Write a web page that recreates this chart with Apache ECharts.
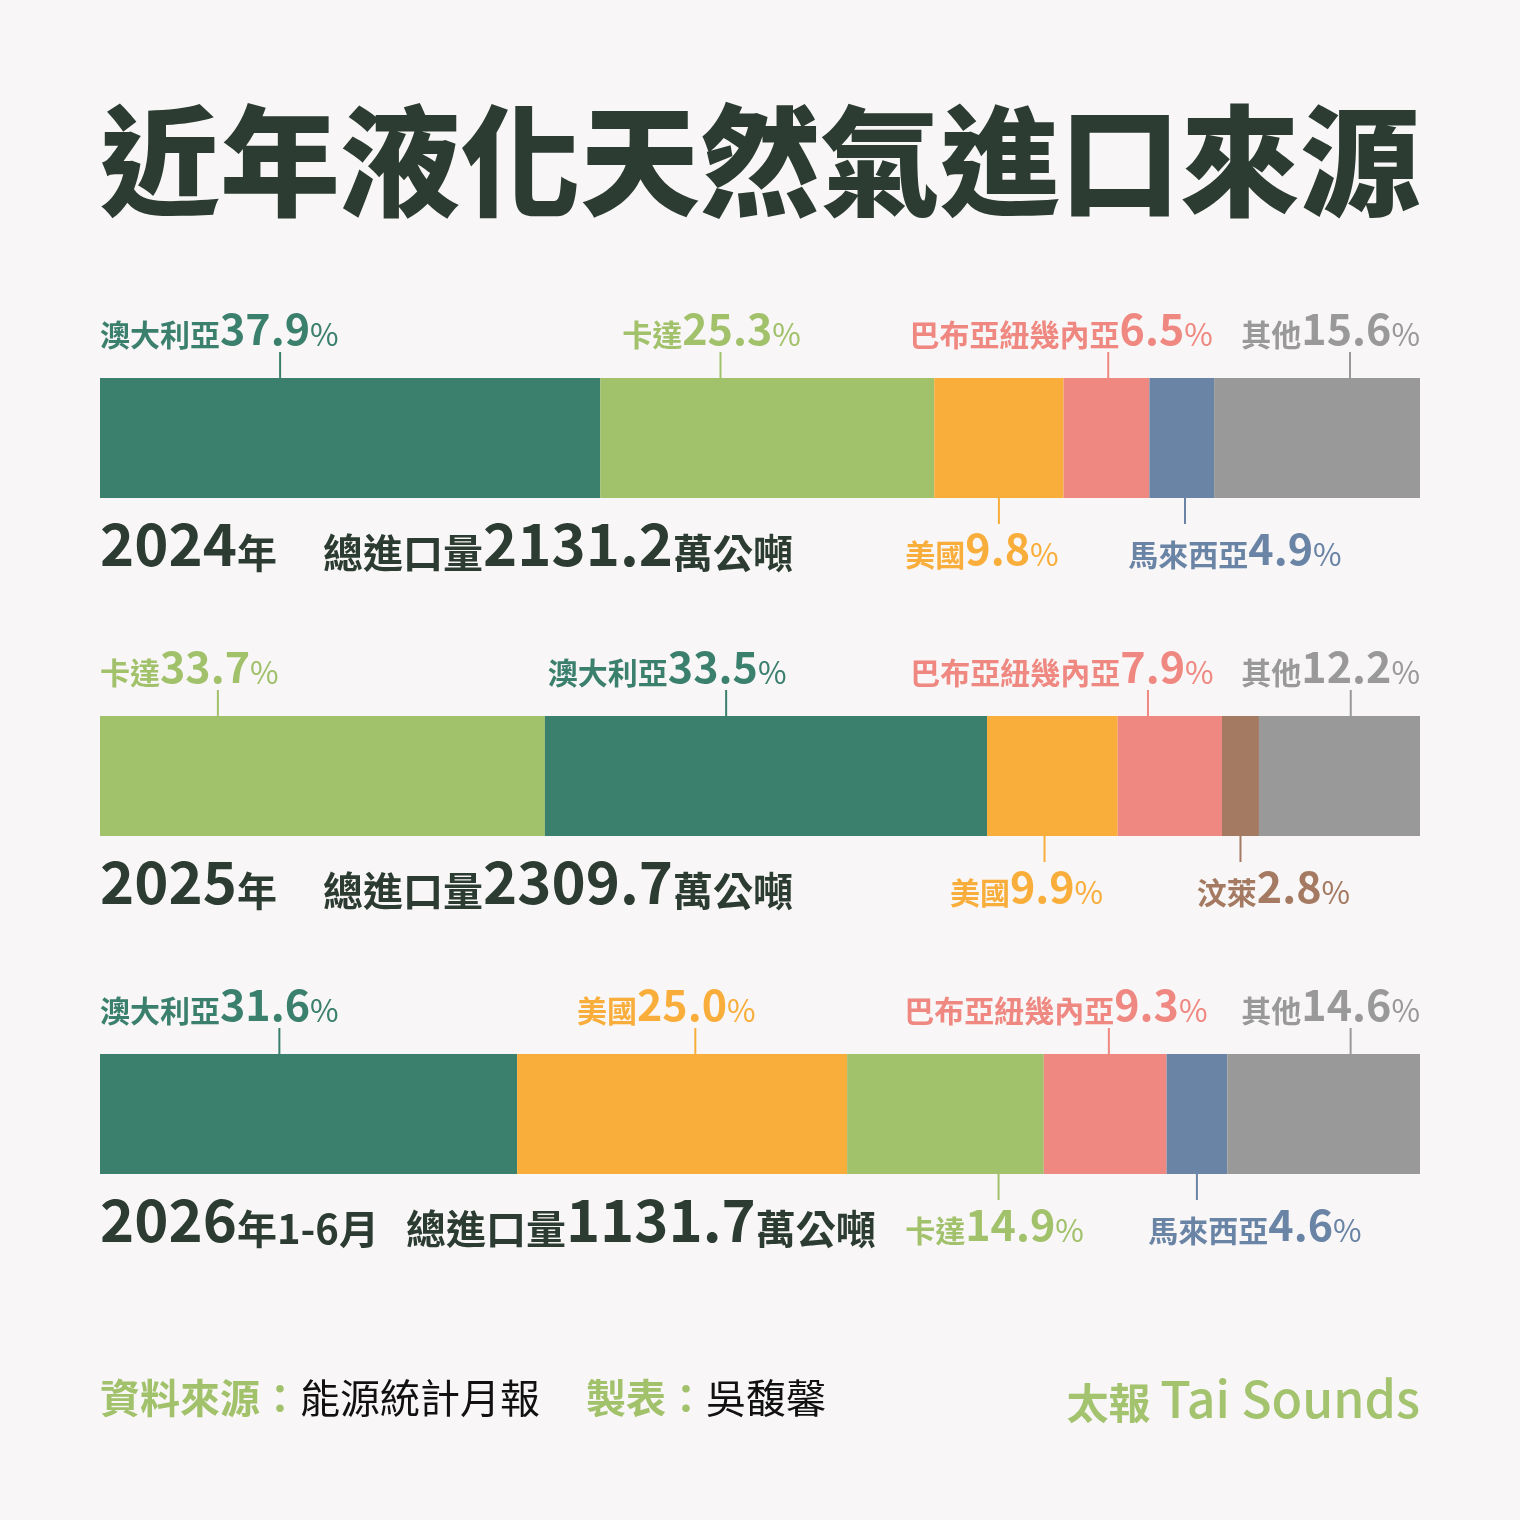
<!DOCTYPE html>
<html>
<head>
<meta charset="utf-8">
<script src="https://cdn.jsdelivr.net/npm/echarts@6/dist/echarts.min.js"></script>
<style>
  html, body { margin: 0; padding: 0; background: #f8f6f6; }
  #main { width: 1520px; height: 1520px; }
</style>
</head>
<body>
<div id="main"></div>
<script>
// 資料
const years = ['2024', '2025', '2026'];
const yearSuffix = ['年', '年', '年1-6月'];
const totals = ['2131.2', '2309.7', '1131.7'];

const names2024 = ['澳大利亞', '卡達', '美國', '巴布亞紐幾內亞', '馬來西亞', '其他'];
const shares2024 = [37.9, 25.3, 9.8, 6.5, 4.9, 15.6];
const names2025 = ['卡達', '澳大利亞', '美國', '巴布亞紐幾內亞', '汶萊', '其他'];
const shares2025 = [33.7, 33.5, 9.9, 7.9, 2.8, 12.2];
const names2026 = ['澳大利亞', '美國', '卡達', '巴布亞紐幾內亞', '馬來西亞', '其他'];
const shares2026 = [31.6, 25.0, 14.9, 9.3, 4.6, 14.6];

const rowNames = [names2024, names2025, names2026];
const rowShares = [shares2024, shares2025, shares2026];

// 樣式
const countryColor = {
  '澳大利亞': '#3b7f6d',
  '卡達': '#a1c16b',
  '美國': '#f9ae3c',
  '巴布亞紐幾內亞': '#f08882',
  '馬來西亞': '#6a84a6',
  '汶萊': '#a57a62',
  '其他': '#999999'
};
const DARK = '#2c3c33';
const FONT = '"Noto Sans CJK TC", sans-serif';
const BAR_H = 120;

// 標籤位置: side, at = 引線在區塊中的比例, align = start / end / 相對引線的位移
const labelLayout = [
  [{side: 'top', at: 0.36, align: 'start'}, {side: 'top', at: 0.36, align: -9},
   {side: 'bottom', at: 0.5, align: -17}, {side: 'top', at: 0.52, align: -47},
   {side: 'bottom', at: 0.55, align: 50}, {side: 'top', at: 0.66, align: 'end'}],
  [{side: 'top', at: 0.265, align: 'start'}, {side: 'top', at: 0.41, align: -59},
   {side: 'bottom', at: 0.44, align: -18}, {side: 'top', at: 0.29, align: -86},
   {side: 'bottom', at: 0.5, align: 33}, {side: 'top', at: 0.57, align: 'end'}],
  [{side: 'top', at: 0.43, align: 'start'}, {side: 'top', at: 0.54, align: -29},
   {side: 'bottom', at: 0.77, align: -4}, {side: 'top', at: 0.53, align: -53},
   {side: 'bottom', at: 0.5, align: 58}, {side: 'top', at: 0.64, align: 'end'}]
];

const measureCtx = document.createElement('canvas').getContext('2d');
function textWidth(text, size, weight) {
  measureCtx.font = weight + ' ' + size + 'px ' + FONT;
  return measureCtx.measureText(text).width;
}

// 堆疊長條 (依位置分組)
const slotCount = 6;
const barSeries = [];
for (let s = 0; s < slotCount; s++) {
  barSeries.push({
    type: 'bar',
    stack: 'share',
    barWidth: BAR_H,
    silent: true,
    data: rowShares.map((shares, r) => ({
      value: shares[s],
      itemStyle: {color: countryColor[rowNames[r][s]]}
    }))
  });
}

// 標籤資料 [起點, 終點, 列, 位置]
const labelData = [];
rowShares.forEach((shares, r) => {
  let acc = 0;
  shares.forEach((v, s) => {
    labelData.push([acc, acc + v, r, s]);
    acc += v;
  });
});

function renderLabel(params, api) {
  const start = api.value(0), end = api.value(1);
  const r = api.value(2), s = api.value(3);
  const lay = labelLayout[r][s];
  const name = rowNames[r][s];
  const val = rowShares[r][s].toFixed(1);
  const color = countryColor[name];
  const cy = api.coord([0, r])[1];
  const axisLeft = api.coord([0, r])[0];
  const axisRight = api.coord([100, r])[0];
  const lx = api.coord([start + (end - start) * lay.at, r])[0];
  const top = cy - BAR_H / 2, bottom = cy + BAR_H / 2;
  const w = textWidth(name, 30, 'bold') + textWidth(val, 43, 'bold') + textWidth('%', 31, 'normal');
  let tx;
  if (lay.align === 'start') tx = axisLeft;
  else if (lay.align === 'end') tx = axisRight - w;
  else tx = lx + lay.align - w / 2;
  const isTop = lay.side === 'top';
  return {
    type: 'group',
    children: [
      {
        type: 'line',
        shape: isTop ? {x1: lx, y1: top - 26, x2: lx, y2: top} : {x1: lx, y1: bottom, x2: lx, y2: bottom + 26},
        style: {stroke: color, lineWidth: 2}
      },
      {
        type: 'text',
        style: {
          x: tx,
          y: isTop ? top - 28 : bottom + 72,
          align: 'left',
          verticalAlign: 'bottom',
          text: '{n|' + name + '}{v|' + val + '}{p|%}',
          rich: {
            n: {fontSize: 30, fontWeight: 'bold', fontFamily: FONT, fill: color, verticalAlign: 'bottom'},
            v: {fontSize: 43, fontWeight: 'bold', fontFamily: FONT, fill: color, verticalAlign: 'bottom'},
            p: {fontSize: 31, fontWeight: 'normal', fontFamily: FONT, fill: color, verticalAlign: 'bottom'}
          }
        }
      }
    ]
  };
}

function renderRow(params, api) {
  const r = api.value(1);
  const p = api.coord([0, r]);
  const y = p[1] + BAR_H / 2 + 75;
  const suffix = yearSuffix[r];
  const w1 = textWidth(years[r], 58, 'bold') + textWidth(suffix, 40, 'bold');
  const x2 = p[0] + Math.max(223, w1 + 27);
  const rich = {
    y: {fontSize: 58, fontWeight: 'bold', fontFamily: FONT, fill: DARK, verticalAlign: 'bottom'},
    u: {fontSize: 40, fontWeight: 'bold', fontFamily: FONT, fill: DARK, verticalAlign: 'bottom'}
  };
  return {
    type: 'group',
    children: [
      {type: 'text', style: {x: p[0], y: y, align: 'left', verticalAlign: 'bottom',
        text: '{y|' + years[r] + '}{u|' + suffix + '}', rich: rich}},
      {type: 'text', style: {x: x2, y: y, align: 'left', verticalAlign: 'bottom',
        text: '{u|總進口量}{y|' + totals[r] + '}{u|萬公噸}', rich: rich}}
    ]
  };
}

const myChart = echarts.init(document.getElementById('main'));
const option = {
  backgroundColor: '#f8f6f6',
  animation: false,
  title: {
    text: '近年液化天然氣進口來源',
    left: 'center',
    top: 96,
    textStyle: {fontSize: 120, fontWeight: 900, color: DARK, fontFamily: FONT}
  },
  grid: {left: 100, right: 100, top: 269, height: 1014},
  xAxis: {type: 'value', min: 0, max: 100, show: false},
  yAxis: {type: 'category', data: years, inverse: true, show: false},
  series: barSeries.concat([
    {type: 'custom', data: labelData, encode: {x: [0, 1], y: 2}, renderItem: renderLabel, silent: true, z: 5},
    {type: 'custom', data: years.map((_, r) => [0, r]), encode: {x: 0, y: 1}, renderItem: renderRow, silent: true, z: 5}
  ]),
  graphic: [
    {
      type: 'text', left: 100, top: 1378,
      style: {
        text: '{g|資料來源：}{k|能源統計月報}',
        rich: {
          g: {fontSize: 40, fontWeight: 'bold', fontFamily: FONT, fill: '#a1c16b'},
          k: {fontSize: 40, fontWeight: 'normal', fontFamily: FONT, fill: '#111111'}
        }
      }
    },
    {
      type: 'text', left: 586, top: 1378,
      style: {
        text: '{g|製表：}{k|吳馥馨}',
        rich: {
          g: {fontSize: 40, fontWeight: 'bold', fontFamily: FONT, fill: '#a1c16b'},
          k: {fontSize: 40, fontWeight: 'normal', fontFamily: FONT, fill: '#111111'}
        }
      }
    },
    {
      type: 'text', right: 100, top: 1374,
      style: {
        text: '{a|太報 }{b|Tai Sounds}',
        rich: {
          a: {fontSize: 42, fontWeight: 'bold', fontFamily: FONT, fill: '#a3c36f', verticalAlign: 'bottom'},
          b: {fontSize: 50, fontWeight: 500, fontFamily: FONT, fill: '#a3c36f', verticalAlign: 'bottom'}
        }
      }
    }
  ]
};
myChart.setOption(option);
</script>
</body>
</html>
